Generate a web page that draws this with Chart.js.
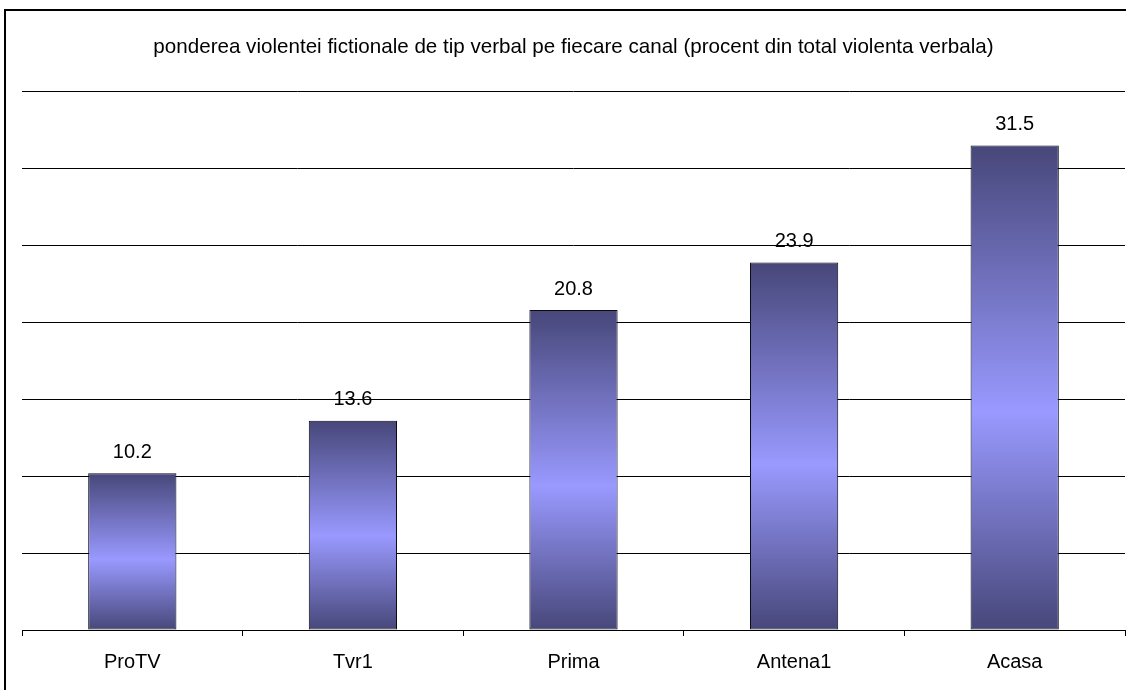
<!DOCTYPE html>
<html>
<head>
    <title>Violenta verbala pe canale</title>
    <script src="https://cdn.jsdelivr.net/npm/chart.js"></script>
    <style>
        body, html {
            margin: 0;
            padding: 0;
            background: #fff;
            overflow: hidden;
        }
        .frame {
            position: absolute;
            left: 4px;
            top: 9px;
            width: 1130px;
            height: 700px;
            border-left: 2px solid #000;
            border-top: 2px solid #000;
        }
        canvas {
            position: absolute;
            left: 0;
            top: 0;
        }
    </style>
</head>
<body>
<div class="frame"></div>
<canvas id="verbalChart" width="1126" height="690"></canvas>

<script>
    // data
    const channels = ['ProTV', 'Tvr1', 'Prima', 'Antena1', 'Acasa'];
    const shares = [10.2, 13.6, 20.8, 23.9, 31.5];
    const yTicks = [0, 5, 10, 15, 20, 25, 30, 35];

    const FONT = '"Liberation Sans", Arial, sans-serif';

    // bar fill: dark at the ends, light blue in the middle
    function barGradient(context) {
        const chart = context.chart;
        if (!chart.chartArea || context.dataIndex === undefined) return '#9999ff';
        const y = chart.scales.y;
        const top = y.getPixelForValue(context.raw);
        const bottom = y.getPixelForValue(0);
        const g = chart.ctx.createLinearGradient(0, top, 0, bottom);
        g.addColorStop(0, '#47477a');
        g.addColorStop(0.55, '#9999ff');
        g.addColorStop(1, '#47477a');
        return g;
    }

    // value labels above the bars (drawn before the grid, like the original)
    const valueLabels = {
        id: 'valueLabels',
        beforeDraw(chart) {
            const ctx = chart.ctx;
            const meta = chart.getDatasetMeta(0);
            ctx.save();
            ctx.font = '20px ' + FONT;
            ctx.fillStyle = '#000';
            ctx.textAlign = 'center';
            ctx.textBaseline = 'middle';
            meta.data.forEach((bar, i) => {
                ctx.fillText(shares[i].toFixed(1), bar.x, bar.y - 21);
            });
            ctx.restore();
        }
    };

    new Chart(document.getElementById('verbalChart'), {
        type: 'bar',
        data: {
            labels: channels,
            datasets: [{
                data: shares,
                backgroundColor: barGradient,
                borderColor: '#0a0a14',
                borderWidth: 1,
                borderSkipped: false,
                barPercentage: 0.4,
                categoryPercentage: 1
            }]
        },
        options: {
            responsive: false,
            animation: false,
            layout: { padding: { left: 22, right: 1, top: 0, bottom: 2 } },
            plugins: {
                legend: { display: false },
                tooltip: { enabled: false },
                title: {
                    display: true,
                    text: 'ponderea violentei fictionale de tip verbal pe fiecare canal (procent din total violenta verbala)',
                    color: '#000',
                    font: { family: FONT, size: 20.6, weight: 'normal' },
                    padding: { top: 35, bottom: 32 }
                }
            },
            scales: {
                x: {
                    grid: {
                        offset: true,
                        drawOnChartArea: false,
                        drawTicks: true,
                        tickLength: 6,
                        color: '#000'
                    },
                    border: { display: true, color: '#000', width: 1 },
                    ticks: {
                        color: '#000',
                        padding: 14,
                        font: { family: FONT, size: 20 }
                    }
                },
                y: {
                    min: yTicks[0],
                    max: yTicks[yTicks.length - 1],
                    afterBuildTicks(axis) {
                        axis.ticks = yTicks.map(v => ({ value: v }));
                    },
                    grid: { color: '#000', drawTicks: false },
                    border: { display: false },
                    ticks: { display: false }
                }
            }
        },
        plugins: [valueLabels]
    });
</script>
</body>
</html>
